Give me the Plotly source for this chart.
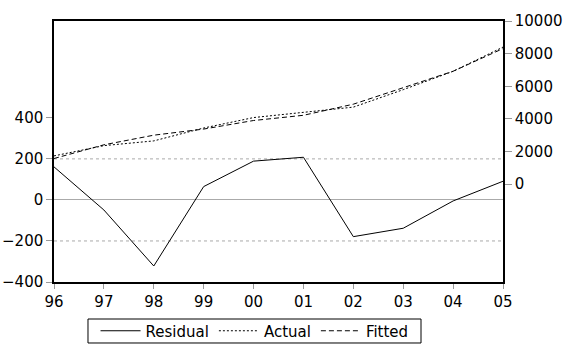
import plotly.graph_objects as go

years = ["96", "97", "98", "99", "00", "01", "02", "03", "04", "05"]
residual = [161, -49, -322, 65, 189, 208, -179, -138, -5, 91]
actual = [1730, 2360, 2650, 3440, 4080, 4390, 4720, 5790, 6915, 8400]
fitted = [1570, 2410, 3000, 3375, 3900, 4220, 4900, 5930, 6920, 8310]

left_ticks = [-400, -200, 0, 200, 400]
right_ticks = [0, 2000, 4000, 6000, 8000, 10000]
grid_vals = [-200, 200]

FONT = "DejaVu Sans"

fig = go.Figure()
fig.add_trace(go.Scatter(x=years, y=residual, name="Residual", mode="lines",
                         line=dict(color="black", width=1), yaxis="y"))
fig.add_trace(go.Scatter(x=years, y=actual, name="Actual", mode="lines",
                         line=dict(color="black", width=1, dash="2px,2px"), yaxis="y2"))
fig.add_trace(go.Scatter(x=years, y=fitted, name="Fitted", mode="lines",
                         line=dict(color="black", width=1, dash="5px,3px"), yaxis="y2"))

for g in grid_vals:
    fig.add_shape(type="line", xref="paper", x0=0, x1=1, yref="y", y0=g, y1=g,
                  line=dict(color="#aaaaaa", width=1, dash="dot"), layer="below")

# legend frame
fig.add_shape(type="rect", xref="paper", yref="paper",
              x0=0.0757, x1=0.8174, y0=-0.2337, y1=-0.1418,
              line=dict(color="black", width=1), fillcolor="rgba(0,0,0,0)")

fig.update_layout(
    width=572, height=353,
    margin=dict(l=54, r=69, t=21, b=71, autoexpand=False),
    paper_bgcolor="white", plot_bgcolor="white",
    font=dict(family=FONT, size=14, color="black"),
    showlegend=True,
    legend=dict(orientation="h", xref="container", yref="container",
                x=0.445, xanchor="center", y=0.0623, yanchor="middle",
                borderwidth=0, bgcolor="rgba(0,0,0,0)", font=dict(size=15),
                itemwidth=40, tracegroupgap=0),
    xaxis=dict(type="category", range=[0, 9], showgrid=False,
               showline=True, linecolor="black", linewidth=1.5, mirror=True,
               ticks="outside", ticklen=5, tickcolor="#999999", zeroline=False,
               tickfont=dict(size=15)),
    yaxis=dict(range=[-400, 872], tickvals=left_ticks, showgrid=False,
               showline=True, linecolor="black", linewidth=1.5,
               ticks="outside", ticklen=6, tickcolor="#999999",
               zeroline=True, zerolinecolor="#aaaaaa", zerolinewidth=1,
               tickfont=dict(size=15)),
    yaxis2=dict(range=[-6000, 10000], tickvals=right_ticks, tickformat="d",
                overlaying="y", side="right",
                showgrid=False, showline=True, linecolor="black", linewidth=1.5,
                ticks="outside", ticklen=7, tickcolor="#999999", zeroline=False,
                tickfont=dict(size=15)),
)

fig.write_html("out.html")
